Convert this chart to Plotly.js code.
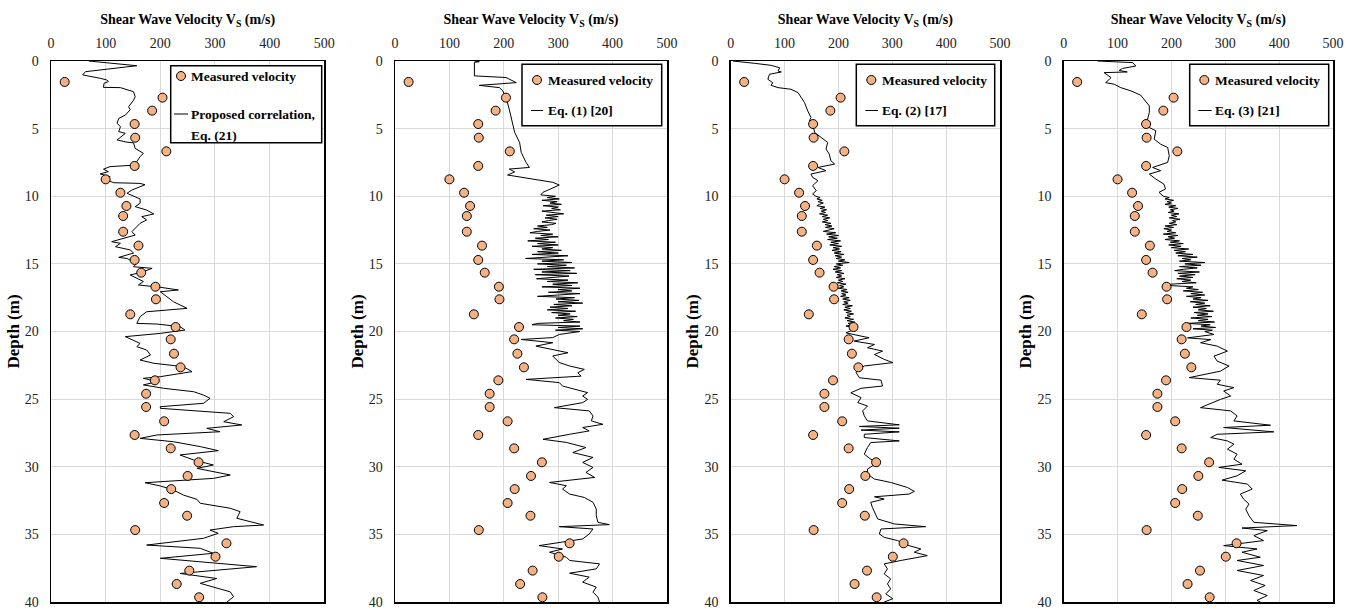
<!DOCTYPE html>
<html>
<head>
<meta charset="utf-8">
<script src="https://cdn.plot.ly/plotly-3.0.1.min.js"></script>
<style>html,body{margin:0;padding:0;background:#fff;}#chart{width:1353px;height:611px;}</style>
</head>
<body>
<div id="chart"></div>
<script>
// ---- Measured velocity (same in all four panels) ----
const measuredDepth = [1.55, 2.71, 3.67, 4.66, 5.67, 6.68, 7.76, 8.75, 9.74, 10.72, 11.46, 12.62, 13.65, 14.71, 15.65, 16.69, 17.62, 18.73, 19.67, 20.58, 21.64, 22.65, 23.61, 24.6, 25.58, 26.64, 27.65, 28.64, 29.67, 30.68, 31.65, 32.68, 33.62, 34.68, 35.66, 36.65, 37.68, 38.67, 39.65];
const measuredVs = [25, 204, 185, 153, 154, 211, 153, 100, 127, 138, 132, 132, 160, 153, 165, 191, 192, 145, 228, 219, 225, 237, 190, 174, 174, 207, 153, 219, 270, 250, 220, 207, 249, 154, 321, 301, 253, 230, 271];

// ---- Panel 1: Proposed correlation, Eq. (21) ----
const p1Depth = [0, 0.05, 0.35, 0.79, 1.03, 1.28, 1.4, 1.52, 1.65, 1.95, 1.97, 2.27, 2.64, 2.9, 3.38, 3.6, 4.0, 4.24, 4.6, 4.86, 5.22, 5.35, 5.84, 6.0, 6.05, 6.46, 6.83, 7.07, 7.44, 7.69, 7.81, 8.0, 8.18, 8.35, 8.55, 8.8, 9.0, 9.05, 9.15, 9.54, 9.78, 10.2, 10.52, 10.77, 11.02, 11.31, 11.51, 11.75, 12.0, 12.25, 12.62, 12.87, 13.36, 13.48, 13.73, 13.97, 14.2, 14.52, 14.6, 14.96, 15.21, 15.33, 15.58, 15.82, 16.06, 16.3, 16.56, 16.63, 16.73, 16.93, 17.06, 17.43, 17.8, 18.29, 18.54, 18.9, 19.4, 19.45, 19.64, 19.89, 20.14, 20.38, 20.63, 20.88, 21.12, 21.37, 21.74, 22.11, 22.35, 22.6, 22.97, 23.34, 23.46, 23.71, 23.95, 24.2, 24.45, 24.7, 24.94, 25.31, 25.56, 25.68, 26.05, 26.3, 26.67, 26.91, 27.16, 27.41, 27.65, 27.9, 28.15, 28.51, 28.81, 29.13, 29.5, 29.87, 30.12, 30.61, 30.86, 31.18, 31.42, 31.72, 32.09, 32.41, 32.7, 33.07, 33.32, 33.81, 34.31, 34.43, 34.68, 34.92, 35.29, 35.79, 36.03, 36.4, 36.77, 37.02, 37.39, 37.89, 38.26, 38.62, 39.25, 39.61, 40.0];
const p1Vs = [69, 84, 157, 63, 58, 90, 102, 105, 97, 96, 127, 151, 154, 151, 142, 145, 136, 124, 121, 127, 124, 136, 121, 139, 151, 154, 169, 163, 157, 157, 108, 96, 105, 90, 108, 102, 115, 163, 172, 148, 139, 163, 163, 154, 175, 188, 166, 175, 163, 157, 148, 154, 111, 127, 118, 145, 151, 124, 139, 157, 151, 185, 169, 145, 157, 169, 160, 182, 200, 233, 200, 212, 224, 249, 175, 163, 157, 194, 236, 245, 200, 136, 151, 163, 157, 175, 182, 163, 188, 242, 258, 200, 169, 194, 169, 206, 261, 279, 291, 279, 200, 200, 328, 334, 316, 349, 285, 309, 194, 163, 224, 273, 306, 236, 261, 297, 267, 328, 297, 172, 200, 224, 242, 267, 273, 328, 346, 340, 389, 334, 291, 306, 279, 175, 273, 297, 200, 267, 376, 236, 303, 273, 328, 334, 322];

// ---- Panel 2: Eq. (1) [20] ----
const p2Depth = [0, 0.05, 0.1, 1.1, 1.22, 1.6, 1.8, 1.97, 2.2, 2.7, 3.56, 4.55, 5.28, 6.02, 6.76, 7.5, 7.87, 7.99, 8.2, 8.43, 8.6, 8.85, 8.97, 9.17, 9.46, 9.71,
  9.9, 10.0, 10.1, 10.2, 10.3, 10.4, 10.5, 10.6, 10.7, 10.8, 10.9, 11.0, 11.1, 11.2, 11.3, 11.4, 11.5, 11.6, 11.7, 11.8, 11.9, 12.0, 12.1, 12.2, 12.3, 12.4, 12.5, 12.6, 12.7, 12.8, 12.9, 13.0, 13.1, 13.2, 13.3, 13.4, 13.5, 13.6, 13.7, 13.8, 13.9, 14.0, 14.1, 14.2, 14.3, 14.4, 14.5, 14.6, 14.7, 14.8, 14.9, 15.0, 15.1, 15.2, 15.3, 15.4, 15.5, 15.6, 15.7, 15.8, 15.9, 16.0, 16.1, 16.2, 16.3, 16.4, 16.5, 16.6, 16.7, 16.8, 16.9, 17.0, 17.1, 17.2, 17.3, 17.4, 17.5, 17.6, 17.7, 17.8, 17.9, 18.0, 18.1, 18.2, 18.3, 18.4, 18.5, 18.6, 18.7, 18.8, 18.9, 19.0, 19.1, 19.2, 19.3, 19.4, 19.5, 19.6, 19.7, 19.8, 19.9, 20.0,
  20.22, 20.45, 20.59, 20.83, 21.08, 21.32, 21.57, 21.81, 22.06, 22.3, 22.55, 22.8, 23.05, 23.3, 23.54, 23.78, 24.03, 24.28, 24.52, 24.77, 25.02, 25.26, 25.63, 25.87, 26.24, 26.61, 26.86, 27.1, 27.35, 27.6, 27.97, 28.2, 28.58, 28.95, 29.31, 29.68, 30.05, 30.42, 30.79, 31.16, 31.4, 31.65, 32.02, 32.27, 32.63, 33.13, 33.62, 34.11, 34.28, 34.43, 34.6, 34.97, 35.34, 35.83, 36.08, 36.32, 36.69, 36.93, 37.18, 37.55, 37.87, 38.16, 38.53, 38.9, 39.27, 39.64, 40.0];
const p2Vs = [146, 155, 146, 146, 204, 223, 155, 192, 198, 204, 210, 216, 220, 229, 232, 241, 247, 210, 220, 207, 235, 272, 290, 302, 284, 272,
  268, 295, 280, 302, 270, 298, 285, 306, 272, 300, 288, 304, 270, 296, 310, 278, 300, 276, 298, 282, 270, 296, 288, 262, 280, 255, 285, 262, 248, 290, 268, 300, 258, 282, 244, 295, 262, 300, 252, 290, 270, 306, 262, 300, 252, 318, 275, 240, 310, 270, 325, 262, 315, 280, 330, 255, 322, 270, 334, 258, 320, 285, 260, 318, 280, 336, 290, 325, 270, 340, 300, 325, 282, 340, 305, 262, 330, 296, 338, 300, 345, 292, 325, 285, 318, 280, 332, 288, 322, 300, 335, 295, 328, 310, 340, 262, 252, 340, 300, 345, 295, 340,
  302, 290, 232, 290, 259, 290, 318, 290, 296, 302, 321, 348, 336, 342, 241, 302, 308, 333, 354, 345, 354, 345, 293, 357, 364, 361, 382, 345, 357, 321, 272, 315, 351, 327, 364, 345, 364, 351, 367, 284, 315, 308, 321, 348, 364, 370, 370, 373, 394, 302, 364, 357, 345, 265, 308, 284, 315, 321, 376, 370, 321, 357, 345, 370, 364, 373, 376];

// ---- Panel 3: Eq. (2) [17] ----
const p3Depth = [0, 0.05, 0.17, 0.32, 0.5, 0.74, 0.81, 0.98, 1.35, 1.6, 1.8, 1.97, 2.09, 2.34, 2.7, 3.07, 3.69, 4.18, 4.43, 4.67, 5.29, 5.65, 6.02, 6.51, 6.88, 7.37, 7.62, 7.87, 8.11, 8.36, 8.6, 8.85, 9.22, 9.59, 9.83,
  10.0, 10.1, 10.2, 10.3, 10.4, 10.5, 10.6, 10.7, 10.8, 10.9, 11.0, 11.1, 11.2, 11.3, 11.4, 11.5, 11.6, 11.7, 11.8, 11.9, 12.0, 12.1, 12.2, 12.3, 12.4, 12.5, 12.6, 12.7, 12.8, 12.9, 13.0, 13.1, 13.2, 13.3, 13.4, 13.5, 13.6, 13.7, 13.8, 13.9, 14.0, 14.1, 14.2, 14.3, 14.4, 14.5, 14.6, 14.7, 14.8, 14.9, 15.0, 15.1, 15.2, 15.3, 15.4, 15.5, 15.6, 15.7, 15.8, 15.9, 16.0, 16.1, 16.2, 16.3, 16.4, 16.5, 16.6, 16.7, 16.8, 16.9, 17.0, 17.1, 17.2, 17.3, 17.4, 17.5, 17.6, 17.7, 17.8, 17.9, 18.0, 18.1, 18.2, 18.3, 18.4, 18.5, 18.6, 18.7, 18.8, 18.9, 19.0, 19.1, 19.2, 19.3, 19.4, 19.5, 19.6, 19.7, 19.8, 19.9, 20.0,
  20.1, 20.34, 20.46, 20.71, 20.96, 21.2, 21.45, 21.7, 22.06, 22.3, 22.55, 22.8, 23.05, 23.42, 23.6, 24.03, 24.2, 24.53, 24.89, 25.26, 25.51, 25.87, 26.24, 26.61, 26.9, 27.02, 27.15, 27.29, 27.42, 27.6, 27.84, 28.09, 28.21, 28.58, 29.07, 29.44, 29.68, 30.17, 30.55, 30.91, 31.16, 31.53, 31.82, 32.02, 32.22, 32.39, 32.63, 33.0, 33.37, 33.86, 34.23, 34.43, 34.6, 34.97, 35.22, 35.46, 35.83, 36.08, 36.32, 36.57, 36.93, 37.18, 37.55, 37.92, 38.29, 38.66, 39.03, 39.4, 39.76, 40.0];
const p3Vs = [4, 20, 44, 75, 91, 88, 94, 72, 69, 78, 75, 88, 112, 125, 131, 137, 143, 149, 146, 152, 156, 168, 180, 177, 183, 186, 193, 162, 177, 149, 152, 162, 152, 159, 152,
  158, 166, 160, 170, 162, 172, 165, 160, 175, 166, 178, 168, 176, 165, 180, 170, 184, 172, 180, 170, 186, 175, 188, 176, 192, 180, 172, 195, 178, 200, 182, 198, 180, 204, 186, 200, 184, 206, 190, 202, 188, 205, 192, 210, 194, 206, 196, 212, 200, 220, 196, 208, 192, 204, 190, 206, 194, 210, 198, 206, 196, 212, 200, 208, 198, 214, 202, 210, 200, 216, 205, 218, 206, 214, 204, 220, 208, 222, 210, 218, 208, 226, 212, 222, 210, 224, 214, 228, 216, 222, 212, 228, 216, 230, 218, 226, 214, 230, 220, 226, 218,
  214, 242, 257, 229, 267, 254, 282, 267, 285, 301, 248, 236, 233, 239, 279, 282, 242, 223, 242, 236, 254, 245, 248, 254, 313, 239, 313, 242, 313, 248, 248, 313, 260, 254, 248, 260, 273, 254, 254, 267, 297, 328, 341, 331, 267, 285, 260, 263, 267, 273, 304, 362, 279, 276, 285, 310, 331, 353, 341, 365, 316, 285, 291, 285, 297, 291, 297, 288, 301, 285];

// ---- Panel 4: Eq. (3) [21] ----
const p4Depth = [0, 0.12, 0.37, 0.55, 0.7, 0.81, 0.86, 1.23, 1.6, 1.72, 1.97, 2.21, 2.53, 2.95, 3.32, 3.81, 4.55, 4.92, 5.16, 5.78, 6.15, 6.39, 7.01, 7.5, 7.87, 8.11, 8.36, 8.73, 9.1, 9.46, 9.71,
  10.0, 10.1, 10.2, 10.3, 10.4, 10.5, 10.6, 10.7, 10.8, 10.9, 11.0, 11.1, 11.2, 11.3, 11.4, 11.5, 11.6, 11.7, 11.8, 11.9, 12.0, 12.1, 12.2, 12.3, 12.4, 12.5, 12.6, 12.7, 12.8, 12.9, 13.0, 13.1, 13.2, 13.3, 13.4, 13.5, 13.6, 13.7, 13.8, 13.9, 14.0, 14.1, 14.2, 14.3, 14.4, 14.5, 14.6, 14.7, 14.8, 14.9, 15.0, 15.1, 15.2, 15.3, 15.4, 15.5, 15.6, 15.7, 15.8, 15.9, 16.0, 16.1, 16.2, 16.3, 16.4, 16.5, 16.6, 16.7, 16.8, 16.9, 17.0, 17.1, 17.2, 17.3, 17.4, 17.5, 17.6, 17.7, 17.8, 17.9, 18.0, 18.1, 18.2, 18.3, 18.4, 18.5, 18.6, 18.7, 18.8, 18.9, 19.0, 19.1, 19.2, 19.3, 19.4, 19.5, 19.6, 19.7, 19.8, 19.9, 20.0,
  20.22, 20.47, 20.6, 20.83, 21.08, 21.45, 21.82, 22.19, 22.55, 22.93, 23.41, 23.6, 23.9, 24.15, 24.4, 24.77, 25.02, 25.63, 25.87, 26.24, 26.61, 26.93, 27.1, 27.42, 27.6, 27.84, 28.09, 28.33, 28.7, 29.07, 29.44, 29.81, 30.05, 30.3, 30.67, 30.99, 31.28, 31.65, 32.02, 32.39, 32.76, 33.13, 33.62, 34.11, 34.35, 34.53, 34.72, 35.09, 35.46, 35.83, 36.08, 36.32, 36.69, 36.93, 37.3, 37.67, 38.04, 38.41, 38.78, 39.15, 39.52, 39.88, 40.0];
const p4Vs = [63, 128, 134, 109, 103, 118, 75, 88, 78, 94, 106, 125, 143, 152, 159, 159, 154, 159, 171, 168, 180, 193, 196, 193, 165, 180, 159, 171, 186, 189, 177,
  185, 196, 188, 204, 192, 200, 188, 208, 195, 212, 198, 205, 194, 214, 200, 210, 196, 216, 202, 208, 196, 210, 188, 204, 186, 200, 192, 208, 185, 212, 194, 206, 188, 215, 198, 222, 195, 218, 200, 232, 205, 226, 208, 240, 212, 248, 220, 236, 215, 262, 225, 255, 215, 248, 222, 206, 252, 212, 244, 215, 240, 210, 236, 220, 246, 198, 196, 240, 228, 250, 222, 258, 236, 262, 228, 255, 240, 268, 235, 262, 245, 272, 240, 265, 250, 278, 242, 268, 248, 275, 236, 268, 250, 280, 228, 272, 255, 282, 240, 276, 262,
  279, 230, 273, 254, 285, 304, 279, 285, 307, 291, 233, 291, 285, 316, 297, 310, 291, 254, 310, 322, 316, 384, 297, 390, 285, 273, 304, 316, 304, 322, 316, 331, 288, 338, 322, 294, 341, 350, 328, 334, 344, 338, 344, 353, 433, 331, 378, 353, 371, 297, 359, 331, 365, 322, 371, 322, 371, 347, 374, 353, 378, 359, 365];

const lineNames = ['Proposed correlation,', 'Eq. (1) [20]', 'Eq. (2) [17]', 'Eq. (3) [21]'];
const lineNameExtra = ['Eq. (21)', '', '', ''];
const markerName = 'Measured velocity';
const xTitle = 'Shear Wave Velocity V<sub>S</sub> (m/s)';
const yTitle = 'Depth (m)';

const FONT = '"Liberation Serif", "Times New Roman", serif';
const W = 1353, H = 611;
const lineDepths = [p1Depth, p2Depth, p3Depth, p4Depth];
const lineVs = [p1Vs, p2Vs, p3Vs, p4Vs];

// layout geometry (pixels)
const xDomainsPx = [[51, 324.3], [395, 667], [730.7, 1000], [1063.7, 1333]];
const yDomainPx = [61, 602];
// legend boxes: [left, right, top, bottom, symbolX, textX, row1Y, row2Y, lineX0, lineX1]
const legendBox = [
  [170.7, 321.7, 65.7, 142.7, 181, 189.5, 76, 114, 174, 188],
  [522, 661.7, 64.3, 125.7, 537, 545.5, 80, 110.5, 531, 543],
  [856.3, 994.7, 64.3, 125.7, 871.3, 879.7, 80, 110.5, 865.3, 878],
  [1189.7, 1328.7, 64.3, 125.7, 1204.3, 1212.7, 80, 110.5, 1198.3, 1211.7]
];
const px = v => v / W;
const py = v => 1 - v / H;

const data = [];
const shapes = [];
const annotations = [];
const layout = {
  width: W, height: H,
  margin: {l: 0, r: 0, t: 0, b: 0},
  paper_bgcolor: '#fff', plot_bgcolor: '#fff',
  font: {family: FONT, color: '#000'},
  showlegend: false
};
const legFont = {family: FONT, size: 13.5, color: '#000', weight: 'bold'};

for (let i = 0; i < 4; i++) {
  const s = i === 0 ? '' : String(i + 1);
  data.push({
    type: 'scatter', mode: 'lines',
    x: lineVs[i], y: lineDepths[i],
    xaxis: 'x' + s, yaxis: 'y' + s,
    name: lineNames[i] + ' ' + lineNameExtra[i],
    line: {color: '#000', width: 1}
  });
  data.push({
    type: 'scatter', mode: 'markers',
    x: measuredVs, y: measuredDepth,
    xaxis: 'x' + s, yaxis: 'y' + s,
    name: markerName,
    marker: {color: '#F4B183', size: 9, line: {color: '#000', width: 1}}
  });
  layout['xaxis' + s] = {
    domain: [px(xDomainsPx[i][0]), px(xDomainsPx[i][1])], anchor: 'y' + s, side: 'top',
    range: [0, 500], tick0: 0, dtick: 100,
    showgrid: true, gridcolor: '#d9d9d9', gridwidth: 1,
    showline: true, mirror: true, linecolor: '#000', linewidth: 1.5,
    zeroline: false, ticks: '', ticklabelstandoff: 6,
    tickfont: {family: FONT, size: 14, color: '#222'},
    title: {text: xTitle, font: {family: FONT, size: 14, color: '#000', weight: 'bold'}, standoff: 8},
    fixedrange: true
  };
  layout['yaxis' + s] = {
    domain: [py(yDomainPx[1]), py(yDomainPx[0])], anchor: 'x' + s,
    range: [40, 0], tick0: 0, dtick: 5,
    showgrid: true, gridcolor: '#d9d9d9', gridwidth: 1,
    showline: true, mirror: true, linecolor: '#000', linewidth: 1.5,
    zeroline: false, ticks: '', ticklabelstandoff: 8,
    tickfont: {family: FONT, size: 14, color: '#222'},
    title: {text: yTitle, font: {family: FONT, size: 17, color: '#000', weight: 'bold'}, standoff: 1},
    fixedrange: true
  };
  // legend drawn as shapes + annotations
  const b = legendBox[i];
  shapes.push({type: 'rect', xref: 'paper', yref: 'paper', layer: 'above',
    x0: px(b[0]), x1: px(b[1]), y0: py(b[3]), y1: py(b[2]),
    fillcolor: '#fff', line: {color: '#000', width: 1.5}});
  shapes.push({type: 'circle', xref: 'paper', yref: 'paper', layer: 'above',
    xsizemode: 'pixel', ysizemode: 'pixel', xanchor: px(b[4]), yanchor: py(b[6]),
    x0: -4.5, x1: 4.5, y0: -4.5, y1: 4.5,
    fillcolor: '#F4B183', line: {color: '#000', width: 1}});
  shapes.push({type: 'line', xref: 'paper', yref: 'paper', layer: 'above',
    x0: px(b[8]), x1: px(b[9]), y0: py(b[7]), y1: py(b[7]),
    line: {color: '#000', width: 1}});
  annotations.push({xref: 'paper', yref: 'paper', x: px(b[5]), y: py(b[6]),
    xanchor: 'left', yanchor: 'middle', showarrow: false, text: markerName, font: legFont});
  annotations.push({xref: 'paper', yref: 'paper', x: px(b[5]), y: py(b[7]),
    xanchor: 'left', yanchor: 'middle', showarrow: false, text: lineNames[i], font: legFont});
  if (lineNameExtra[i]) {
    annotations.push({xref: 'paper', yref: 'paper', x: px(b[5]), y: py(b[7] + 21),
      xanchor: 'left', yanchor: 'middle', showarrow: false, text: lineNameExtra[i], font: legFont});
  }
}
layout.shapes = shapes;
layout.annotations = annotations;

Plotly.newPlot('chart', data, layout, {staticPlot: true, displayModeBar: false});
</script>
</body>
</html>
